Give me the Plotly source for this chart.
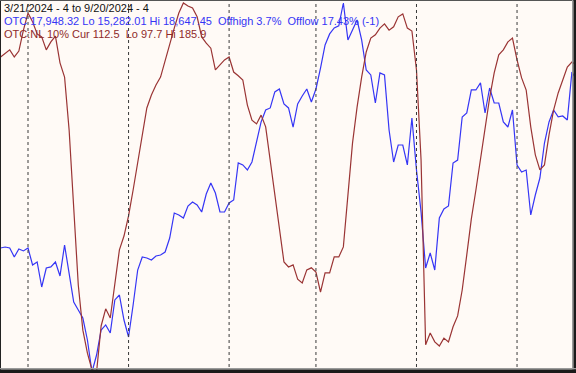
import pandas as pd
import plotly.graph_objects as go

# ---- data ----
holidays = ["2024-03-29", "2024-05-27", "2024-06-19", "2024-07-04", "2024-09-02"]
dates = [d for d in pd.bdate_range("2024-03-21", "2024-09-20") if d.strftime("%Y-%m-%d") not in holidays]

otc_close = [
    16413, 16422, 16413, 16331, 16404, 16386, 16413, 16258, 16285, 16057,
    16230, 16240, 16285, 16158, 16440, 16167, 15920, 15847, 15774, 15574,
    15282, 15437, 15665, 15711, 15638, 15939, 15984, 15756, 15601, 15893,
    16212, 16331, 16322, 16303, 16340, 16349, 16376, 16504, 16732, 16714,
    16686, 16796, 16832, 16805, 16741, 16905, 17006, 16914, 16741, 16741,
    16823, 16851, 17188, 17170, 17124, 17197, 17370, 17562, 17671, 17690,
    17836, 17863, 17726, 17690, 17516, 17726, 17799, 17863, 17744, 17863,
    18054, 18264, 18365, 18419, 18438, 18647, 18310, 18401, 18492, 18310,
    18036, 17991, 17735, 18009, 17991, 17489, 17197, 17352, 17352, 17170,
    17598, 17124, 16741, 16230, 16367, 16212, 16686, 16769, 16796, 17188,
    17215, 17608, 17644, 17854, 17854, 17918, 17644, 17872, 17735, 17735,
    17562, 17516, 17671, 17170, 17106, 17124, 16714, 16896, 17051, 17370,
    17562, 17671, 17608, 17617, 17580, 18018, 17948,
]

otc_nl = [
    110.6, 109.7, 108.9, 110.6, 109.2, 104.2, 100.1, 102.2, 105.1, 105.8,
    108.9, 107.0, 105.6, 112.0, 115.4, 128.1, 146.0, 165.1, 175.9, 181.4,
    185.4, 185.9, 174.9, 170.8, 173.0, 165.1, 156.7, 153.4, 148.6, 142.4,
    135.9, 128.8, 122.8, 119.7, 117.3, 115.4, 111.3, 107.3, 103.7, 100.1,
    97.7, 98.4, 98.9, 101.0, 105.8, 107.3, 108.5, 113.7, 112.5, 111.3,
    110.6, 114.2, 115.1, 116.1, 122.1, 125.7, 126.6, 124.5, 127.3, 135.2,
    143.1, 151.0, 159.6, 160.8, 160.3, 163.7, 164.6, 161.5, 161.0, 162.0,
    166.8, 162.2, 162.2, 158.4, 158.4, 156.0, 143.1, 131.2, 122.6, 115.4,
    109.4, 106.1, 105.3, 103.7, 102.7, 104.2, 103.4, 101.0, 100.3, 103.7,
    104.4, 113.7, 135.2, 179.4, 176.6, 178.7, 179.7, 177.8, 178.7, 175.1,
    172.5, 166.3, 157.9, 149.3, 142.4, 135.2, 127.6, 120.4, 114.4, 110.1,
    108.9, 107.0, 106.1, 111.3, 115.6, 118.5, 127.3, 134.0, 137.6, 136.4,
    129.2, 123.3, 119.2, 116.1, 113.0, 111.8, 112.5,
]

title_text = "3/21/2024 - 4 to 9/20/2024 - 4"
otc_text = "OTC 17,948.32 Lo 15,282.01 Hi 18,647.45  Offhigh 3.7%  Offlow 17.43% (-1)"
nl_text = "OTC:NL 10% Cur 112.5  Lo 97.7 Hi 185.9"

# ---- layout constants ----
W, H = 576, 373
BLUE = "#3535f5"
RED = "#9a3434"

idx = list(range(len(dates)))
month_starts = [i for i in range(1, len(dates)) if dates[i].month != dates[i - 1].month]

otc_lo, otc_hi = min(otc_close), max(otc_close)
nl_lo, nl_hi = min(otc_nl), max(otc_nl)
upp_otc = (otc_hi - otc_lo) / 369.0
upp_nl = (nl_hi - nl_lo) / 369.0

fig = go.Figure()
fig.add_trace(go.Scatter(x=idx, y=otc_nl, mode="lines", line=dict(color=RED, width=1.2),
                         yaxis="y2", hoverinfo="skip"))
fig.add_trace(go.Scatter(x=idx, y=otc_close, mode="lines", line=dict(color=BLUE, width=1.2),
                         yaxis="y", hoverinfo="skip"))

shapes = []
for m in month_starts:
    shapes.append(dict(type="line", xref="x", yref="paper", x0=m, x1=m, y0=0, y1=1,
                       line=dict(color="#3a3a3a", width=1, dash="3px,3px"), layer="above"))

def px_x(p):
    return p / W

def px_y(p):
    return 1 - p / H

# frame
shapes += [
    dict(type="line", xref="paper", yref="paper", x0=px_x(0.5), x1=px_x(0.5), y0=0, y1=1,
         line=dict(color="#222", width=1)),
    dict(type="line", xref="paper", yref="paper", x0=0, x1=1, y0=px_y(0.5), y1=px_y(0.5),
         line=dict(color="#555", width=1)),
    dict(type="rect", xref="paper", yref="paper", x0=px_x(572), x1=px_x(573.5), y0=0, y1=1,
         line=dict(width=0), fillcolor="#9a9a9a"),
    dict(type="rect", xref="paper", yref="paper", x0=px_x(573.5), x1=1, y0=0, y1=1,
         line=dict(width=0), fillcolor="#1a1a1a"),
    dict(type="rect", xref="paper", yref="paper", x0=0, x1=1, y0=px_y(369.5), y1=px_y(368),
         line=dict(width=0), fillcolor="#9a9a9a"),
    dict(type="rect", xref="paper", yref="paper", x0=0, x1=1, y0=0, y1=px_y(369.5),
         line=dict(width=0), fillcolor="#1a1a1a"),
]

font_family = "Liberation Sans, Arial, sans-serif"
annotations = [
    dict(text=title_text, xref="paper", yref="paper", x=px_x(2), y=px_y(8), xanchor="left",
         yanchor="middle", showarrow=False, font=dict(family=font_family, size=11, color="#111")),
    dict(text=otc_text, xref="paper", yref="paper", x=px_x(2), y=px_y(21), xanchor="left",
         yanchor="middle", showarrow=False, font=dict(family=font_family, size=11, color=BLUE)),
    dict(text=nl_text, xref="paper", yref="paper", x=px_x(2), y=px_y(34), xanchor="left",
         yanchor="middle", showarrow=False, font=dict(family=font_family, size=11, color="#8e2a2a")),
]

fig.update_layout(
    width=W, height=H,
    margin=dict(l=0, r=0, t=0, b=0),
    paper_bgcolor="#fffaf6", plot_bgcolor="#fffaf6",
    showlegend=False,
    xaxis=dict(range=[-0.127, 125.9], visible=False, showgrid=False, zeroline=False),
    yaxis=dict(range=[otc_lo - 1 * upp_otc, otc_hi + 3 * upp_otc], visible=False,
               showgrid=False, zeroline=False),
    yaxis2=dict(range=[nl_hi + 1 * upp_nl, nl_lo - 3 * upp_nl], overlaying="y", visible=False,
                showgrid=False, zeroline=False),
    shapes=shapes,
    annotations=annotations,
)

fig.write_html("out.html", config={"displayModeBar": False})
